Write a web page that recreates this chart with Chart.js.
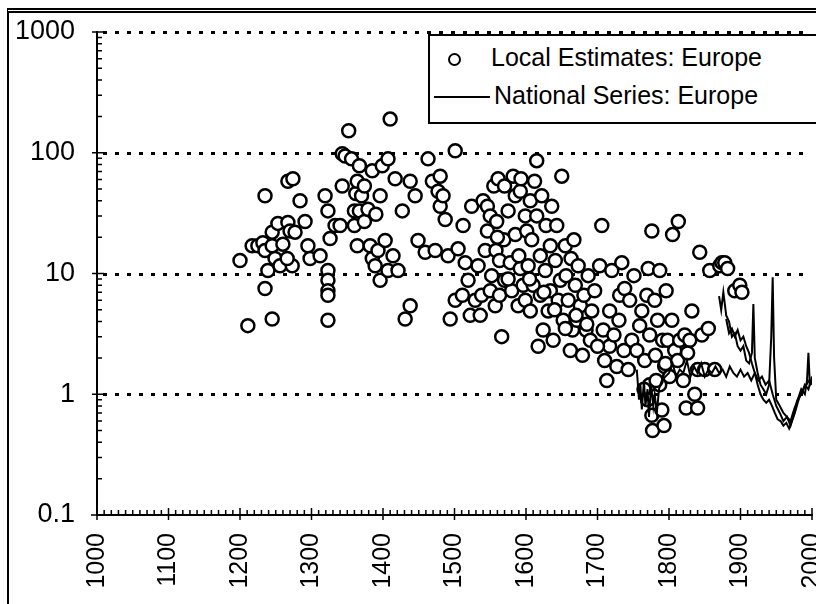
<!DOCTYPE html>
<html><head><meta charset="utf-8">
<script src="https://cdn.jsdelivr.net/npm/chart.js@4/dist/chart.umd.min.js"></script>
<style>
body{margin:0;background:#fff;font-family:"Liberation Sans",Arial,sans-serif}
#wrap{position:relative;width:816px;height:604px;overflow:hidden}
#frame{position:absolute;left:7px;top:8px;width:830px;bottom:0;border-left:2px solid #000;border-top:5px double #000}
#c{position:absolute;left:0;top:0}
#legend{position:absolute;left:428px;top:34px;width:400px;height:86px;border:2px solid #000;background:#fff;font-size:25px}
#legend div{position:absolute;left:12px;height:30px;line-height:30px;white-space:nowrap}
</style></head><body>
<div id="wrap"><div id="frame"></div><canvas id="c" width="852" height="604"></canvas>
<div id="legend">
<div style="top:6px"><span style="display:inline-block;width:9px;height:9px;border:2px solid #000;border-radius:50%;margin:0 30px 0 6px;vertical-align:middle"></span>Local Estimates: Europe</div>
<div style="top:44px;left:4px"><span style="display:inline-block;width:56px;border-top:2px solid #000;margin-right:4px;vertical-align:middle"></span>National Series: Europe</div>
</div></div>
<script>
const localYears = [1200,1211,1217,1225,1232,1235,1235,1235,1239,1245,1245,1245,1249,1253,1256,1260,1267,1267,1270,1273,1274,1266,1277,1284,1291,1295,1298,
1312,1319,1323,1323,1323,1323,1323,1323,1326,1333,1340,1343,1343,1347,1352,1356,1360,1362,1360,1364,1364,1367,1367,1370,1374,1374,1379,1382,1385,1385,1389,1390,1393,1396,1396,1399,
1403,1407,1407,1410,1414,1417,1421,1427,1431,1438,1438,1445,1449,1459,1463,1469,1473,1477,1480,1480,1484,1487,1491,1494,1501,1501,1505,1511,1512,
1515,1519,1522,1524,1529,1533,1536,1538,1540,1543,1546,1546,1550,1550,1552,1555,1557,1558,1559,1561,1563,1563,1566,1569,1570,1570,1575,1578,1580,1582,1585,1585,1589,1592,1592,1593,1596,1599,1599,
1601,1603,1606,1606,1608,1610,1612,1615,1615,1617,1620,1620,1622,1624,1627,1628,1631,1634,1634,1636,1638,1641,1643,1645,1648,1650,1652,1655,1656,1659,1662,1663,1665,1667,1669,1671,1673,1676,1679,1681,1684,1687,1690,1692,1696,
1703,1706,1708,1710,1713,1717,1717,1720,1723,1727,1730,1731,1734,1737,1738,1743,1745,1748,1751,1755,1759,1762,1766,1769,1771,1773,1773,1776,1776,1777,1780,1781,1784,1787,1787,1790,1791,1793,1794,1796,1798,
1801,1804,1805,1808,1813,1815,1820,1822,1824,1829,1832,1836,1840,1840,1843,1846,1850,1855,1857,1864,1871,1874,1878,1882,1892,1899,1902,
1560,1575,1590,1605,1625,1640,1655,1670,1685,1700,1765,1770,1782,1795,1812,1826];
const localValues = [12.8,3.7,17,17,18,15.5,44,7.5,10.6,22,4.2,17,13.3,26,11.6,17.5,58,26.5,22.5,11.6,61,13.3,22,40,27,17,13.3,
14,44,33,10.6,8.8,7.2,6.6,4.1,19.5,25,25,53,98,94,152,89,33,46,25,17,58,78,33,44,53,27,34,17,71,13.3,11.6,31,15.5,44,8.8,78,
18.8,10.6,89,190,14,61,10.6,33,4.2,5.4,58,44,18.8,15,89,58,15.5,48,36,64,44,28,14,4.2,104,6,16,6.6,25,
12.3,8.8,4.5,36,6,11.6,4.5,6.6,40,15.5,36,22.5,30,7.2,9.6,53,5.4,15.5,27,61,6.6,12.8,3,19,8.8,53,33,12.3,7.2,64,44,21,5.4,11,48,61,8,30,6,
22.5,11.6,4.9,40,19,8,58,86,30,2.5,14,6.6,44,3.4,10.6,25,4.9,17,7.2,36,2.8,12.8,25,6,8.8,64,4.1,17,9.6,6,2.3,13.3,3.4,19,8,4.1,11.6,5.4,2.1,6.6,3.4,9.6,2.8,4.9,7.2,
11.6,25,3.4,1.9,1.3,4.9,2.5,10.6,3.1,1.7,4.1,6.6,12.3,2.3,7.5,1.6,6,2.8,9.6,2.3,3.7,4.9,1.9,6.6,11,3.1,1.2,22.5,0.67,0.5,6,2.1,4.1,10.6,1.2,0.74,2.8,0.55,1.7,7.2,2.8,
1.4,4.1,21,2.3,27,2.8,1.3,3.1,0.77,2.8,4.9,1,1.6,0.77,15,3.1,1.6,3.5,10.6,1.6,11.6,12.3,12.3,11,7.2,8,7,
20,9,14,9,7,5,3.5,4.5,3.8,2.5,1.1,0.9,1.3,1.8,1.9,2.2];
const nat1Years = [1755,1758,1760,1762,1765,1767,1770,1772,1775,1778,1780,1783,1786,1790,1795,1800,1805,1810,1815,1820,1825,1830,1835,1840,1845,1850,1855,1860,1865,1870,1875,1880,1885,1890,1895,1900,1905,1910,1915,1920,1925,1930,1935,1940,1945,1950,1955,1960,1965,1970,1975,1980,1985,1990,1993,1995,1997,2000];
const nat1Values = [1.6,0.9,1.2,0.75,1.3,0.8,1.1,0.65,1.2,0.8,1.0,0.7,1.1,1.3,1.4,1.5,1.8,1.4,1.6,1.5,1.9,1.4,1.7,1.5,1.8,1.4,1.6,1.5,1.7,1.5,1.6,1.4,1.7,1.5,1.4,1.6,1.4,1.5,1.3,1.5,1.3,1.4,1.2,1.3,1.0,0.8,0.7,0.6,0.65,0.55,0.7,0.9,1.1,1.0,1.3,2.2,1.2,1.3];
const nat2Years = [1870,1873,1876,1880,1884,1888,1892,1896,1900,1904,1908,1912,1916,1918,1920,1924,1928,1932,1936,1940,1943,1945,1947,1950,1955,1960,1965,1970,1975,1980,1985,1990,1995,2000];
const nat2Values = [6.5,5,7,4.5,4,3,3.2,2.5,2.3,2.5,1.9,1.8,2.2,5.6,2.0,1.5,1.2,1.1,1.0,1.2,3,9.3,2,0.9,0.8,0.7,0.65,0.6,0.75,0.9,1.0,1.2,1.1,1.4];
const nat3Years = [1880,1884,1888,1892,1896,1900,1904,1908,1912,1916,1920,1924,1928,1932,1936,1940,1944,1948,1952,1956,1960,1964,1968,1972,1976,1980,1984,1988,1992,1996,2000];
const nat3Values = [4.2,3.2,3.5,3,3.4,2.8,3,2.5,2.2,1.8,1.5,1.2,1.0,0.9,0.85,0.9,0.8,0.7,0.62,0.6,0.55,0.58,0.52,0.6,0.7,0.85,1.0,1.1,1.2,1.3,1.2];
const yDecades = [0.1,1,10,100,1000];

const FONT = '"Liberation Sans", Arial';
const pts = (xs, ys) => xs.map((x, i) => ({ x, y: ys[i] }));
const lineDs = (xs, ys) => ({ type: 'line', data: pts(xs, ys), borderColor: '#000', borderWidth: 2, pointRadius: 0, fill: false, tension: 0 });

const extras = {
  id: 'extras',
  beforeDatasetsDraw(chart) {
    const { ctx, chartArea: a, scales: { y } } = chart;
    ctx.save();
    ctx.fillStyle = '#000';
    [1, 10, 100, 1000].forEach(v => {
      const py = Math.round(y.getPixelForValue(v));
      for (let px = a.left + 6; px < a.right - 2; px += 12) ctx.fillRect(px, py - 1, 4, 3);
    });
    ctx.restore();
  },
  afterDraw(chart) {
    const { ctx, chartArea: a, scales: { x, y } } = chart;
    ctx.save();
    ctx.strokeStyle = '#000';
    ctx.lineWidth = 1.5;
    ctx.beginPath();
    for (let yr = 1000; yr <= 2000; yr += 10) {
      const px = x.getPixelForValue(yr);
      if (yr % 100 === 0) { ctx.moveTo(px, a.bottom + 5); ctx.lineTo(px, a.bottom - 7); }
      else { ctx.moveTo(px, a.bottom); ctx.lineTo(px, a.bottom - 5); }
    }
    ctx.moveTo(a.left - 6, a.bottom); ctx.lineTo(a.left, a.bottom);
    yDecades.forEach(d => {
      const py = y.getPixelForValue(d);
      ctx.moveTo(a.left - 5, py); ctx.lineTo(a.left + 7, py);
      if (d < 1000) for (let k = 2; k < 10; k++) {
        const pm = y.getPixelForValue(d * k);
        ctx.moveTo(a.left, pm); ctx.lineTo(a.left + 5, pm);
      }
    });
    ctx.stroke();
    ctx.restore();
  }
};

new Chart(document.getElementById('c'), {
  type: 'scatter',
  data: {
    datasets: [
      lineDs(nat1Years, nat1Values),
      lineDs(nat2Years, nat2Values),
      lineDs(nat3Years, nat3Values),
      { data: pts(localYears, localValues), pointRadius: 6.5, pointBorderWidth: 2.5, pointBorderColor: '#000', pointBackgroundColor: '#fff' }
    ]
  },
  options: {
    responsive: false, animation: false,
    layout: { padding: { left: 0, right: 4, top: 32, bottom: 0 } },
    plugins: { legend: { display: false }, tooltip: { enabled: false } },
    scales: {
      x: {
        type: 'linear', min: 1000, max: 2000,
        afterFit: s => { s.height = 89; },
        ticks: { stepSize: 100, minRotation: 90, maxRotation: 90, color: '#000', font: { size: 25, family: FONT }, padding: 10, callback: v => String(v) },
        grid: { display: false },
        border: { color: '#000', width: 2 }
      },
      y: {
        type: 'logarithmic', min: 0.1, max: 1000,
        afterFit: s => { s.width = 97; },
        afterBuildTicks: s => { s.ticks = yDecades.map(v => ({ value: v })); },
        ticks: { color: '#000', font: { size: 27, family: FONT }, padding: 14, callback: v => String(v) },
        grid: { display: false },
        border: { color: '#000', width: 2 }
      }
    }
  },
  plugins: [extras]
});
</script></body></html>
